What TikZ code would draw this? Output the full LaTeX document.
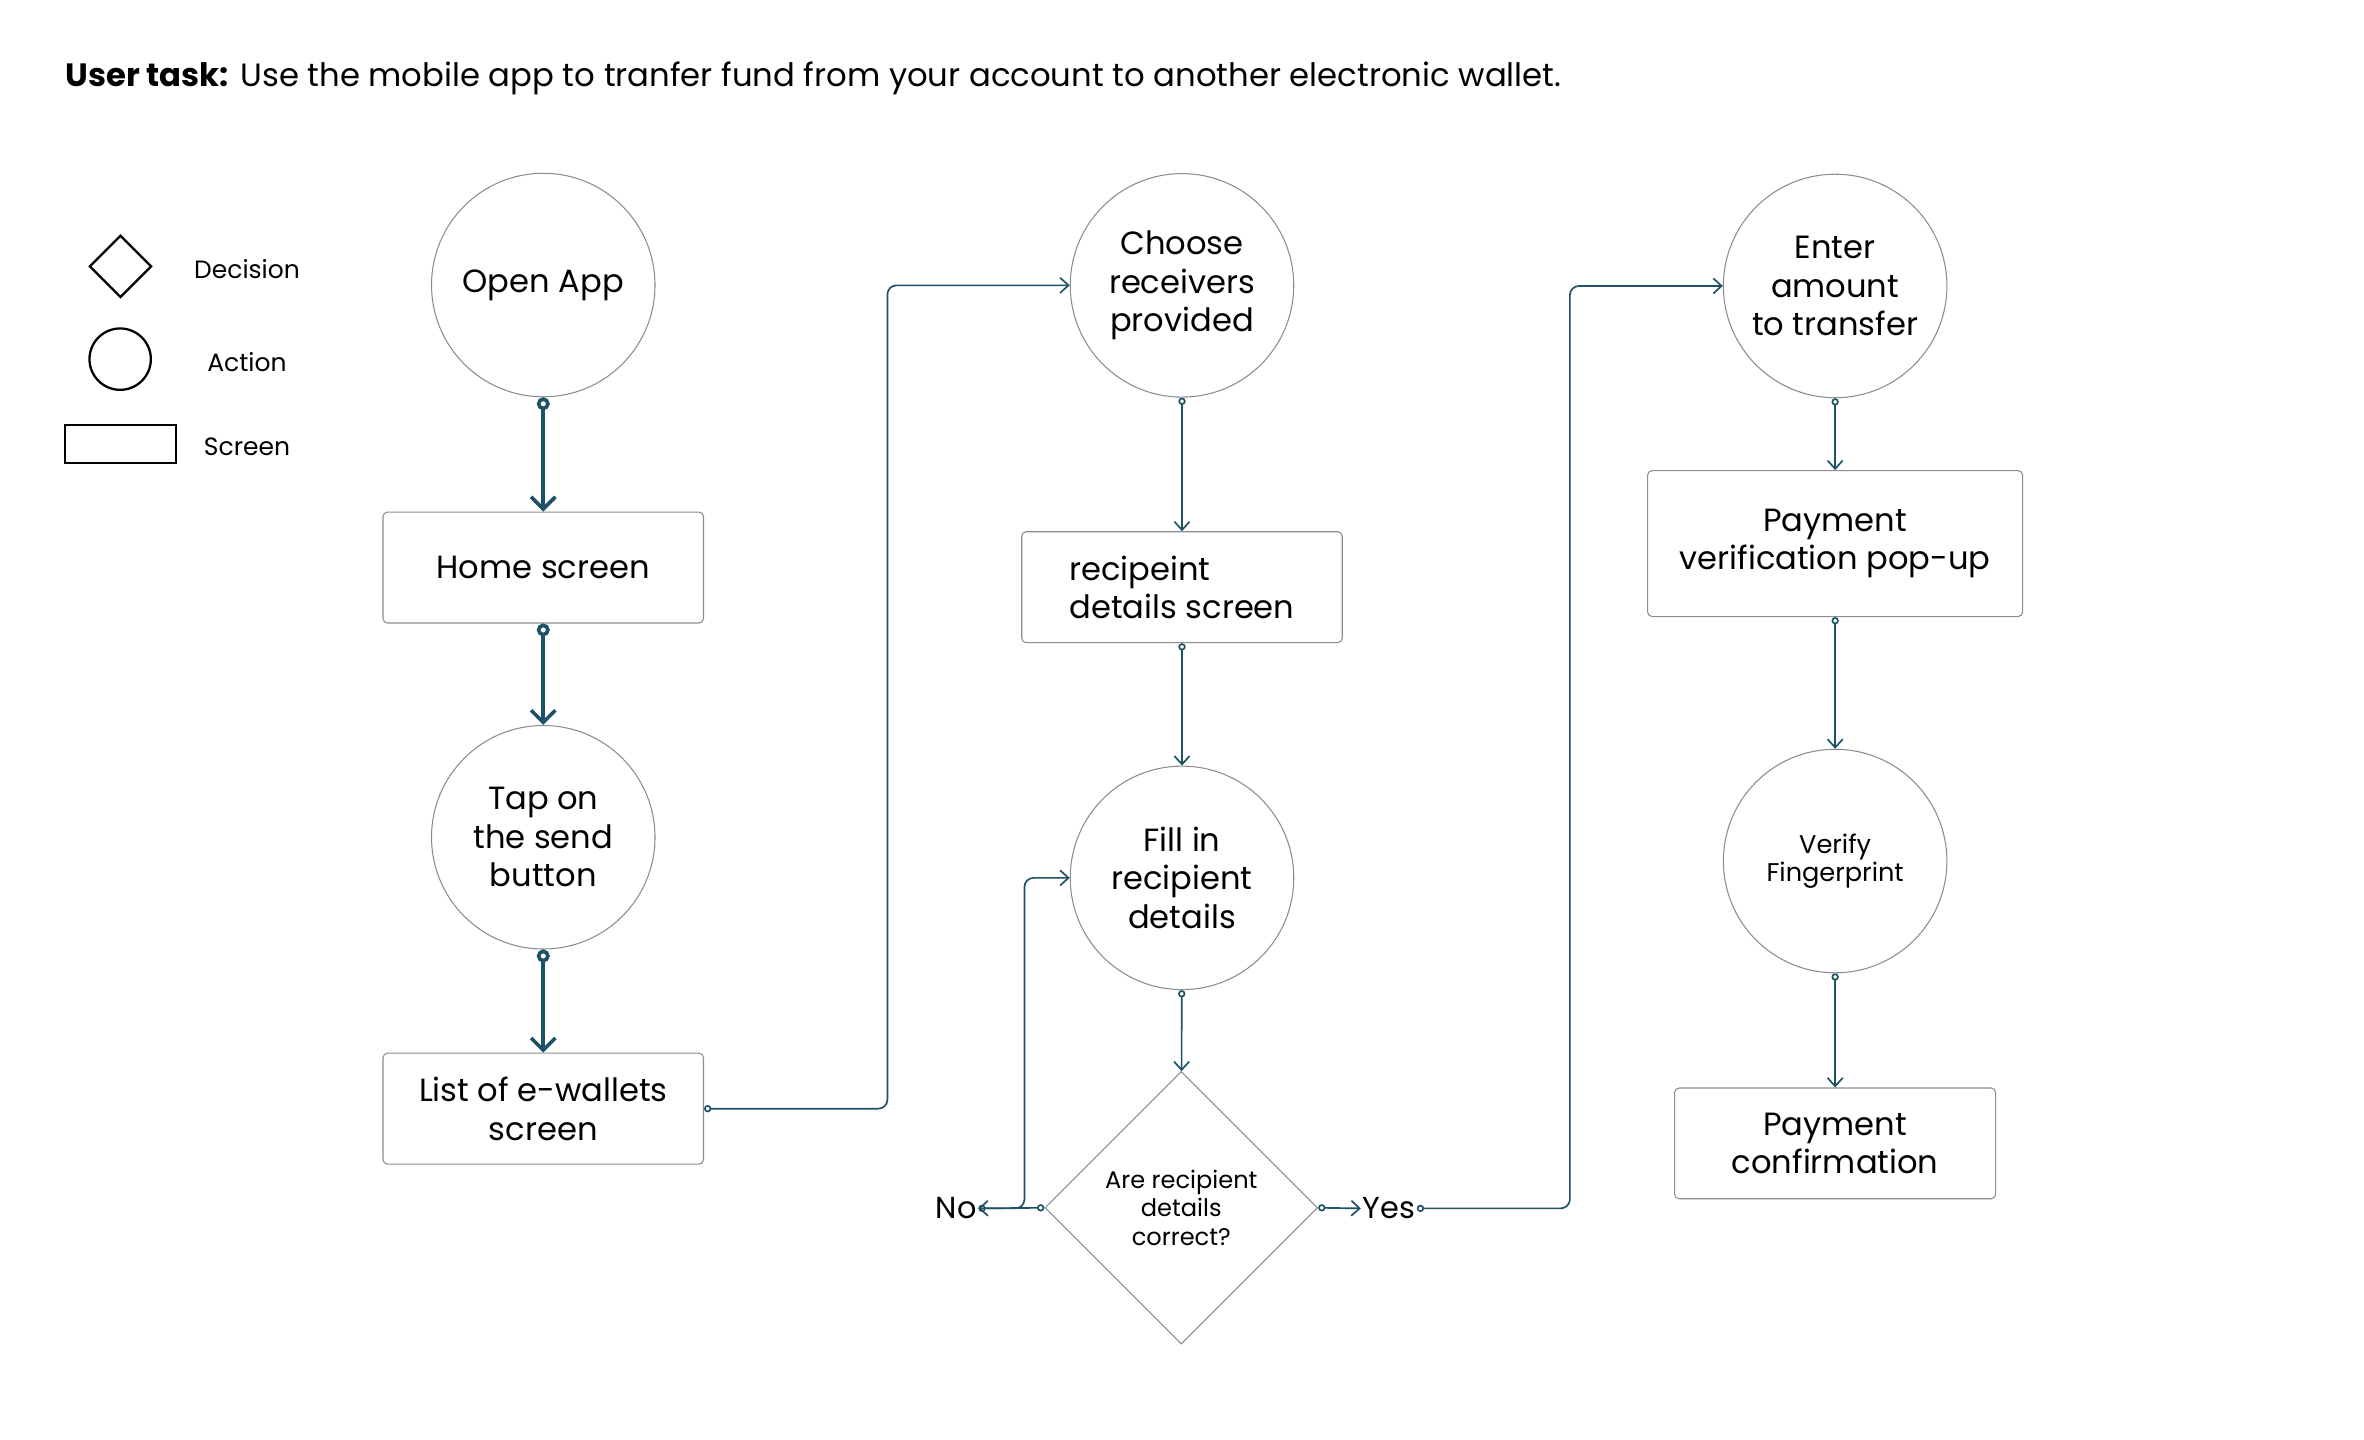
\documentclass[tikz,border=0pt]{standalone}
\usepackage{fontspec}
\setmainfont{Poppins}
\usepackage{tikz}
\definecolor{flow-teal}{HTML}{1D5266}
\definecolor{shape-gray}{gray}{0.55}
\usetikzlibrary{shapes,arrows}
\usetikzlibrary{positioning}
\usetikzlibrary{arrows.meta, calc}

\begin{document}
\begin{tikzpicture}[x=1pt,y=-1pt]
  \tikzstyle{action} = [circle, draw=shape-gray, line width=0.7pt, minimum size=147.5pt, inner sep=0pt, align=center, font=\fontsize{21.2}{25.4}\selectfont]
  \tikzstyle{screen} = [rectangle, rounded corners=3pt, draw=shape-gray, line width=0.7pt, minimum width=211.5pt, minimum height=73.2pt, align=center, font=\fontsize{21.2}{25.4}\selectfont]
  \tikzstyle{decision} = [diamond, draw=shape-gray, line width=0.7pt, minimum width=180pt, minimum height=180pt, inner sep=0pt, align=center, font=\fontsize{15.9}{18.7}\selectfont]
  \tikzstyle{boldflow} = [draw=flow-teal, line width=2.4pt, {Circle[open,length=8.5pt,width=8.5pt]}-{Straight Barb[length=8pt,width=16pt]}]
  \tikzstyle{flow} = [draw=flow-teal, line width=1.1pt, rounded corners=6pt, {Circle[open,length=4.8pt,width=4.8pt]}-{Straight Barb[length=5.5pt,width=10pt]}]
  \tikzstyle{legend} = [draw=black, line width=1.5pt, inner sep=0pt]
  \tikzstyle{legtext} = [font=\fontsize{16.5}{19}\selectfont]
  \tikzstyle{answer} = [inner sep=1pt, font=\fontsize{20}{24}\selectfont]
  % Column positions.
    \def\colA{358.5}
    \def\colB{780}
    \def\colC{1211}
  \useasboundingbox (0,0) rectangle (1560,950.25);
% TITLE
  \node[anchor=base west, inner sep=0pt, font=\fontsize{21.3}{25}\selectfont] (task) at (43,56.8)
    {\textbf{User task:} Use the mobile app to tranfer fund from your account to another electronic wallet.};
% LEGEND
  \node[legend, diamond, minimum width=41pt, minimum height=41pt] (legdec) at (79.5,175.8) {};
  \node[legend, circle, minimum size=40.5pt] (legact) at (79.3,237) {};
  \node[legend, rectangle, minimum width=73.3pt, minimum height=25pt] (legscr) at (79.5,293.1) {};
  \node[legtext] (decision) at (163,177.5) {Decision};
  \node[legtext] (action) at (163,238.7) {Action};
  \node[legtext] (screen) at (163,294.8) {Screen};
% FIRST COLUMN
  \node[action] (open) at (\colA,188.1) {Open App};
  \node[screen] (home) at (\colA,374.5) {Home screen};
  \node[action] (tap) at (\colA,552.5) {Tap on\\the send\\button};
  \node[screen] (list) at (\colA,731.6) {List of e-wallets\\screen};
  \draw[boldflow] (open) -- (home);
  \draw[boldflow] (home) -- (tap);
  \draw[boldflow] (tap) -- (list);
% SECOND COLUMN
  \node[action] (choose) at (\colB,188.3) {Choose\\receivers\\provided};
  \node[screen, align=left] (details) at (\colB,387.5) {recipeint\\details screen};
  \node[action] (fill) at (\colB,579.3) {Fill in\\recipient\\details};
  \node[decision] (check) at (779.5,797) {Are recipient\\details\\correct?};
  \node[answer] (no) at (631,797.4) {No};
  \node[answer] (yes) at (916.5,797.4) {Yes};
  \draw[flow] (list.east) -- ++(121,0) |- (choose.west);
  \draw[flow] (choose) -- (details);
  \draw[flow] (details) -- (fill);
  \draw[flow] (fill) -- (check);
  \draw[flow] (check.west) -- (no.east);
  \draw[flow] (no.east) -- ++(30.4,0) |- (fill.west);
  \draw[flow] (check.east) -- (yes.west);
% THIRD COLUMN
  \node[action] (enter) at (\colC,188.7) {Enter\\amount\\to transfer};
  \node[screen, minimum width=247.5pt, minimum height=96.3pt] (verify) at (\colC,358.7) {Payment\\verification pop-up};
  \node[action, font=\fontsize{16.9}{18.5}\selectfont] (finger) at (\colC,568.2) {Verify\\Fingerprint};
  \node[screen, minimum width=211.8pt, minimum height=73.1pt] (confirm) at (\colC,754.5) {Payment\\confirmation};
  \draw[flow] (yes.east) -- ++(101,0) |- (enter.west);
  \draw[flow] (enter) -- (verify);
  \draw[flow] (verify) -- (finger);
  \draw[flow] (finger) -- (confirm);
\end{tikzpicture}
\end{document}
